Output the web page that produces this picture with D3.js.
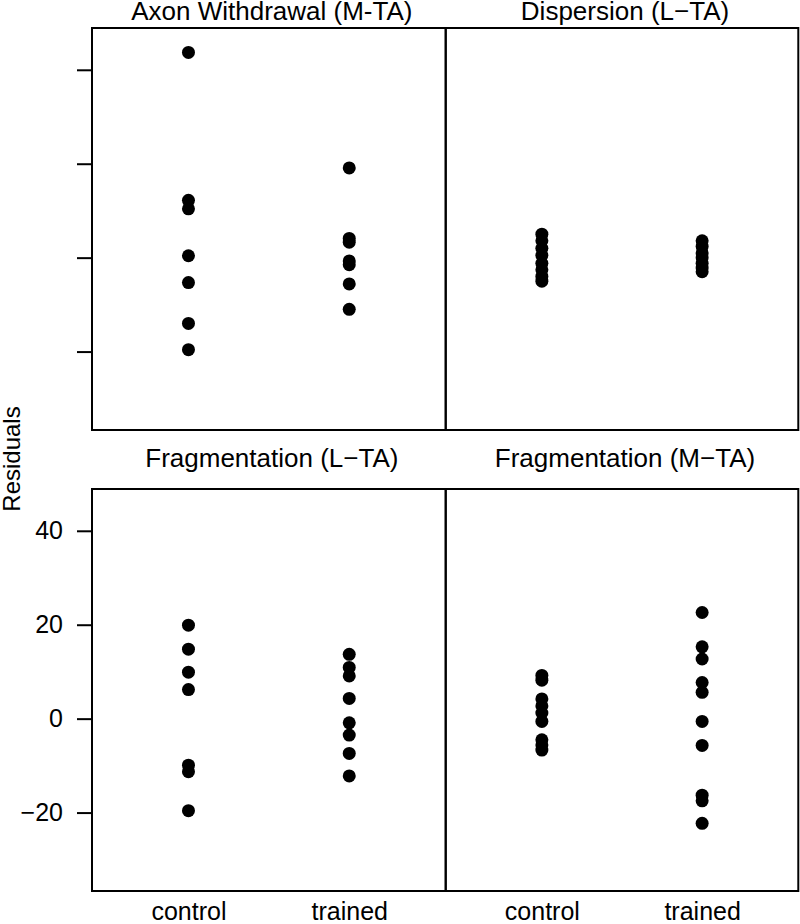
<!DOCTYPE html>
<html>
<head>
<meta charset="utf-8">
<script src="https://cdn.jsdelivr.net/npm/d3@7"></script>
<style>
  body { margin: 0; background: #fff; }
  svg text { font-family: "Liberation Sans", Arial, Helvetica, sans-serif; fill: #000; }
</style>
</head>
<body>
<div class="visHolder"></div>
<script>
const width = 800;
const height = 924;

// data (residuals per group)
const groups = ['control', 'trained'];
const panelTitles = ['Axon Withdrawal (M-TA)', 'Dispersion (L\u2212TA)', 'Fragmentation (L\u2212TA)', 'Fragmentation (M\u2212TA)'];
const yTicks = [-20, 0, 20, 40];

const axonControl = [43.7, 12.2, 10.4, 0.4, -5.3, -14.0, -19.6];
const axonTrained = [19.1, 4.1, 3.3, -0.7, -1.5, -5.6, -11.0];
const dispControl = [5.0, 3.6, 2.0, 0.5, -1.2, -2.6, -4.0, -5.0];
const dispTrained = [3.6, 2.4, 1.0, 0.0, -1.2, -2.2, -3.0];
const fragLControl = [19.9, 14.8, 9.9, 6.2, -9.9, -11.3, -19.6];
const fragLTrained = [13.7, 10.9, 9.1, 4.3, -0.9, -3.5, -7.4, -12.2];
const fragMControl = [9.2, 8.2, 4.2, 2.7, 1.2, -0.6, -4.5, -5.6, -6.7];
const fragMTrained = [22.6, 15.3, 12.7, 7.7, 5.6, -0.6, -5.7, -16.3, -17.5, -22.3];

const panelData = [
  [axonControl, axonTrained],
  [dispControl, dispTrained],
  [fragLControl, fragLTrained],
  [fragMControl, fragMTrained]
];

const colEdges = [[92, 445.7], [445.7, 798.3]];
const rowEdges = [[28, 430], [489, 891]];
const yDomain = [-36.7, 48.9];

const svg = d3.select('.visHolder')
  .append('svg')
  .attr('width', width)
  .attr('height', height);

panelData.forEach((pair, p) => {
  const col = p % 2;
  const row = Math.floor(p / 2);
  const [x0, x1] = colEdges[col];
  const [y0, y1] = rowEdges[row];

  const xScale = d3.scalePoint().domain(groups).range([x0, x1]).padding(0.6);
  const yScale = d3.scaleLinear().domain(yDomain).range([y1, y0]);

  const g = svg.append('g').attr('class', 'panel');

  // points
  const pts = [];
  pair.forEach((vals, gi) => vals.forEach(v => pts.push({ group: groups[gi], value: v })));
  g.selectAll('circle')
    .data(pts)
    .enter()
    .append('circle')
    .attr('cx', d => xScale(d.group))
    .attr('cy', d => yScale(d.value))
    .attr('r', 6.5)
    .style('fill', '#000');

  // panel border
  g.append('rect')
    .attr('x', x0)
    .attr('y', y0)
    .attr('width', x1 - x0)
    .attr('height', y1 - y0)
    .style('fill', 'none')
    .style('stroke', '#000')
    .style('stroke-width', 2);

  // strip title
  g.append('text')
    .attr('x', (x0 + x1) / 2 + 3)
    .attr('y', row === 0 ? 20 : 467)
    .attr('text-anchor', 'middle')
    .style('font-size', '26px')
    .text(panelTitles[p]);

  // y axis on left column
  if (col === 0) {
    const yAxis = d3.axisLeft(yScale).tickValues(yTicks).tickSize(15).tickPadding(14);
    if (row === 0) yAxis.tickFormat('');
    const ax = g.append('g')
      .attr('transform', `translate(${x0}, 0)`)
      .call(yAxis);
    ax.select('.domain').remove();
    ax.selectAll('line').style('stroke', '#000').style('stroke-width', 2);
    ax.selectAll('text').style('font-size', '25px').attr('font-family', null);
  }

  // x labels on bottom row
  if (row === 1) {
    const xAxis = d3.axisBottom(xScale).tickSize(0);
    const ax = g.append('g')
      .attr('transform', `translate(0, ${y1})`)
      .call(xAxis);
    ax.select('.domain').remove();
    ax.selectAll('text')
      .attr('y', 29)
      .attr('dy', '0')
      .attr('font-family', null)
      .style('font-size', '25px');
  }
});

svg.append('text')
  .attr('transform', 'translate(20, 459) rotate(-90)')
  .attr('text-anchor', 'middle')
  .style('font-size', '24px')
  .text('Residuals');
</script>
</body>
</html>
